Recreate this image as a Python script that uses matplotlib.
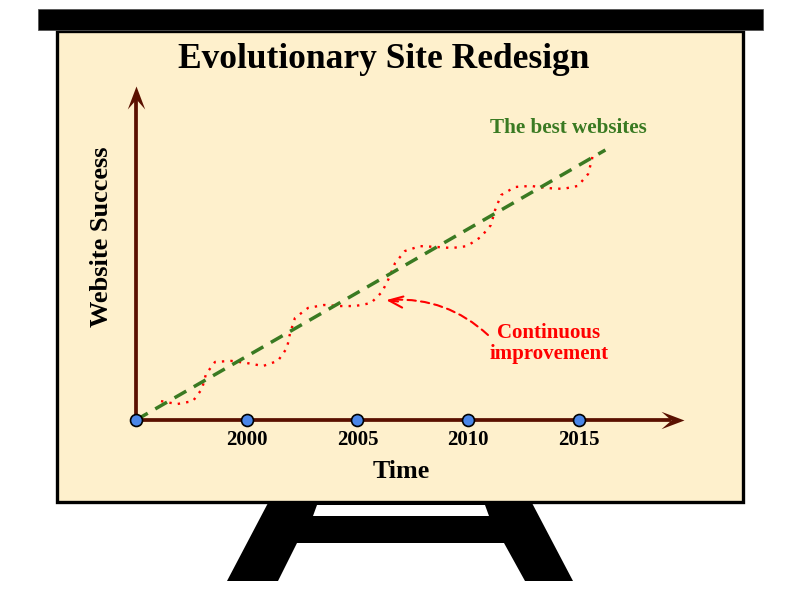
import matplotlib
matplotlib.use("Agg")
import matplotlib.pyplot as plt
from matplotlib.patches import Rectangle, Polygon
from matplotlib.path import Path

# ---------------- data ----------------
title = "Evolutionary Site Redesign"
x_label = "Time"
y_label = "Website Success"
tick_years = [2000, 2005, 2010, 2015]
dot_years = [1995, 2000, 2005, 2010, 2015]

best_label = "The best websites"
best_years = [1995, 2016.2]
best_success = [0, 100]

improve_label = ["Continuous", "improvement"]
improve_years = [1996.13, 1996.85, 1997.57, 1997.98, 1998.16, 1998.57, 1999.29,
                 2000.01, 2000.74, 2001.41, 2001.82, 2001.96, 2002.18, 2002.77,
                 2003.49, 2004.17, 2004.89, 2005.61, 2006.11, 2006.43, 2006.70,
                 2007.15, 2007.83, 2008.55, 2009.27, 2009.95, 2010.58, 2011.03,
                 2011.22, 2011.49, 2012.12, 2012.84, 2013.56, 2014.29, 2014.96,
                 2015.42, 2015.60, 2015.64]
improve_success = [7.0, 5.9, 7.0, 11.5, 17.0, 21.5, 21.9,
                   21.1, 20.0, 21.9, 26.7, 32.2, 37.8, 41.5,
                   42.6, 42.2, 42.2, 43.3, 47.4, 52.6, 58.1,
                   62.6, 64.4, 64.1, 63.7, 64.4, 67.8, 72.2,
                   77.8, 83.3, 86.3, 86.7, 85.9, 85.6, 86.7,
                   91.1, 96.7, 99.6]
improve_point = (2006.3, 44.4)

# ---------------- styles ----------------
FONT = "Liberation Serif"
AXIS_C = "#5a1000"
GREEN = "#3a7a22"
RED = "#ff0000"
BLUE = "#4a86e8"
BOARD = "#fef0cc"

fig = plt.figure(figsize=(8, 5.9), dpi=100)
fig.patch.set_facecolor("white")

# background / easel in pixel coordinates
bg = fig.add_axes([0, 0, 1, 1])
bg.set_xlim(0, 800)
bg.set_ylim(590, 0)
bg.axis("off")

# stand
stand = Polygon([(268, 503), (532, 503), (573, 581), (525, 581), (504, 543),
                 (297, 543), (278, 581), (227, 581)], closed=True,
                facecolor="black", edgecolor="none", zorder=1)
bg.add_patch(stand)
hole = Polygon([(317, 505), (485, 505), (489, 516), (313, 516)], closed=True,
               facecolor="white", edgecolor="none", zorder=2)
bg.add_patch(hole)

# board
bg.add_patch(Rectangle((57, 31), 686, 471, facecolor=BOARD, edgecolor="black",
                       linewidth=2.4, zorder=3))
# top bar
bg.add_patch(Rectangle((38, 9), 725, 21, facecolor="black", edgecolor="#555555",
                       linewidth=0.6, zorder=4))

bg.text(384, 68, title, fontsize=25.5, fontweight="bold", family=FONT,
        ha="center", va="baseline", color="black", zorder=5)
bg.text(401, 478, x_label, fontsize=18.7, fontweight="bold", family=FONT,
        ha="center", va="baseline", color="black", zorder=5)
bg.text(108, 236.5, y_label, fontsize=19, fontweight="bold", family=FONT,
        ha="center", va="baseline", rotation=90, rotation_mode="anchor",
        color="black", zorder=5)
bg.text(490, 133, best_label, fontsize=15.2, fontweight="bold", family=FONT,
        ha="left", va="baseline", color=GREEN, zorder=5)
bg.text(549, 338, improve_label[0], fontsize=15, fontweight="bold", family=FONT,
        ha="center", va="baseline", color=RED, zorder=5)
bg.text(549, 359, improve_label[1], fontsize=15, fontweight="bold", family=FONT,
        ha="center", va="baseline", color=RED, zorder=5)

# ---------------- chart axes ----------------
px_per_year = 22.14
px_per_unit = 2.7
ax = fig.add_axes([136 / 800, (590 - 420) / 590, 548 / 800, 334 / 590])
ax.patch.set_alpha(0)
ax.axis("off")
x0 = dot_years[0]
xmax = x0 + 548 / px_per_year
ymax = 334 / px_per_unit
ax.set_xlim(x0, xmax)
ax.set_ylim(0, ymax)

# axis lines (end at the arrowhead notch)
notch_x = 13 / px_per_year
notch_y = 13 / px_per_unit
ax.plot([x0, xmax - notch_x], [0, 0], color=AXIS_C, lw=2.7,
        solid_capstyle="butt", clip_on=False, zorder=3)
ax.plot([x0, x0], [0, ymax - notch_y], color=AXIS_C, lw=2.7,
        solid_capstyle="butt", clip_on=False, zorder=3)

codes = [Path.MOVETO, Path.LINETO, Path.LINETO, Path.LINETO, Path.CLOSEPOLY]
right_head = Path([(0, 0), (-23, 8.7), (-13, 0), (-23, -8.7), (0, 0)], codes)
up_head = Path([(0, 0), (8.7, -23), (0, -13), (-8.7, -23), (0, 0)], codes)
ms_head = 46 * 0.72
ax.plot([xmax], [0], marker=right_head, ms=ms_head, color=AXIS_C, mew=0,
        clip_on=False, zorder=4)
ax.plot([x0], [ymax], marker=up_head, ms=ms_head, color=AXIS_C, mew=0,
        clip_on=False, zorder=4)

# improvement curve (red dotted)
ax.plot(improve_years, improve_success, color=RED, lw=1.7,
        linestyle=(0, (1, 2.6)), clip_on=False, zorder=5)
# best websites (green dashed)
ax.plot(best_years, best_success, color=GREEN, lw=2.5,
        linestyle=(0, (3.9, 2.5)), clip_on=False, zorder=6)

# dots on time axis
ax.plot(dot_years, [0] * len(dot_years), linestyle="none", marker="o",
        ms=8.6, mfc=BLUE, mec="black", mew=1.2, clip_on=False, zorder=8)

for yr in tick_years:
    ax.annotate(str(yr), xy=(yr, 0), xytext=(0, -25), textcoords="offset pixels",
                fontsize=15, fontweight="bold", family=FONT, ha="center",
                va="baseline", color="black")

# annotation: dashed curve + solid head
ax.annotate("", xy=improve_point, xycoords="data",
            xytext=(488, 335), textcoords=bg.transData,
            arrowprops=dict(arrowstyle="-", color=RED, lw=1.5,
                            linestyle=(0, (4, 2.5)),
                            connectionstyle="arc3,rad=0.22",
                            shrinkA=0, shrinkB=4),
            zorder=7)
ax.annotate("", xy=improve_point, xycoords="data",
            xytext=(398, 301.5), textcoords=bg.transData,
            arrowprops=dict(arrowstyle="->,head_length=0.5,head_width=0.2",
                            color=RED, lw=1.5, shrinkA=0, shrinkB=0,
                            mutation_scale=20),
            zorder=7)

fig.savefig("out.png", dpi=100, facecolor="white")
